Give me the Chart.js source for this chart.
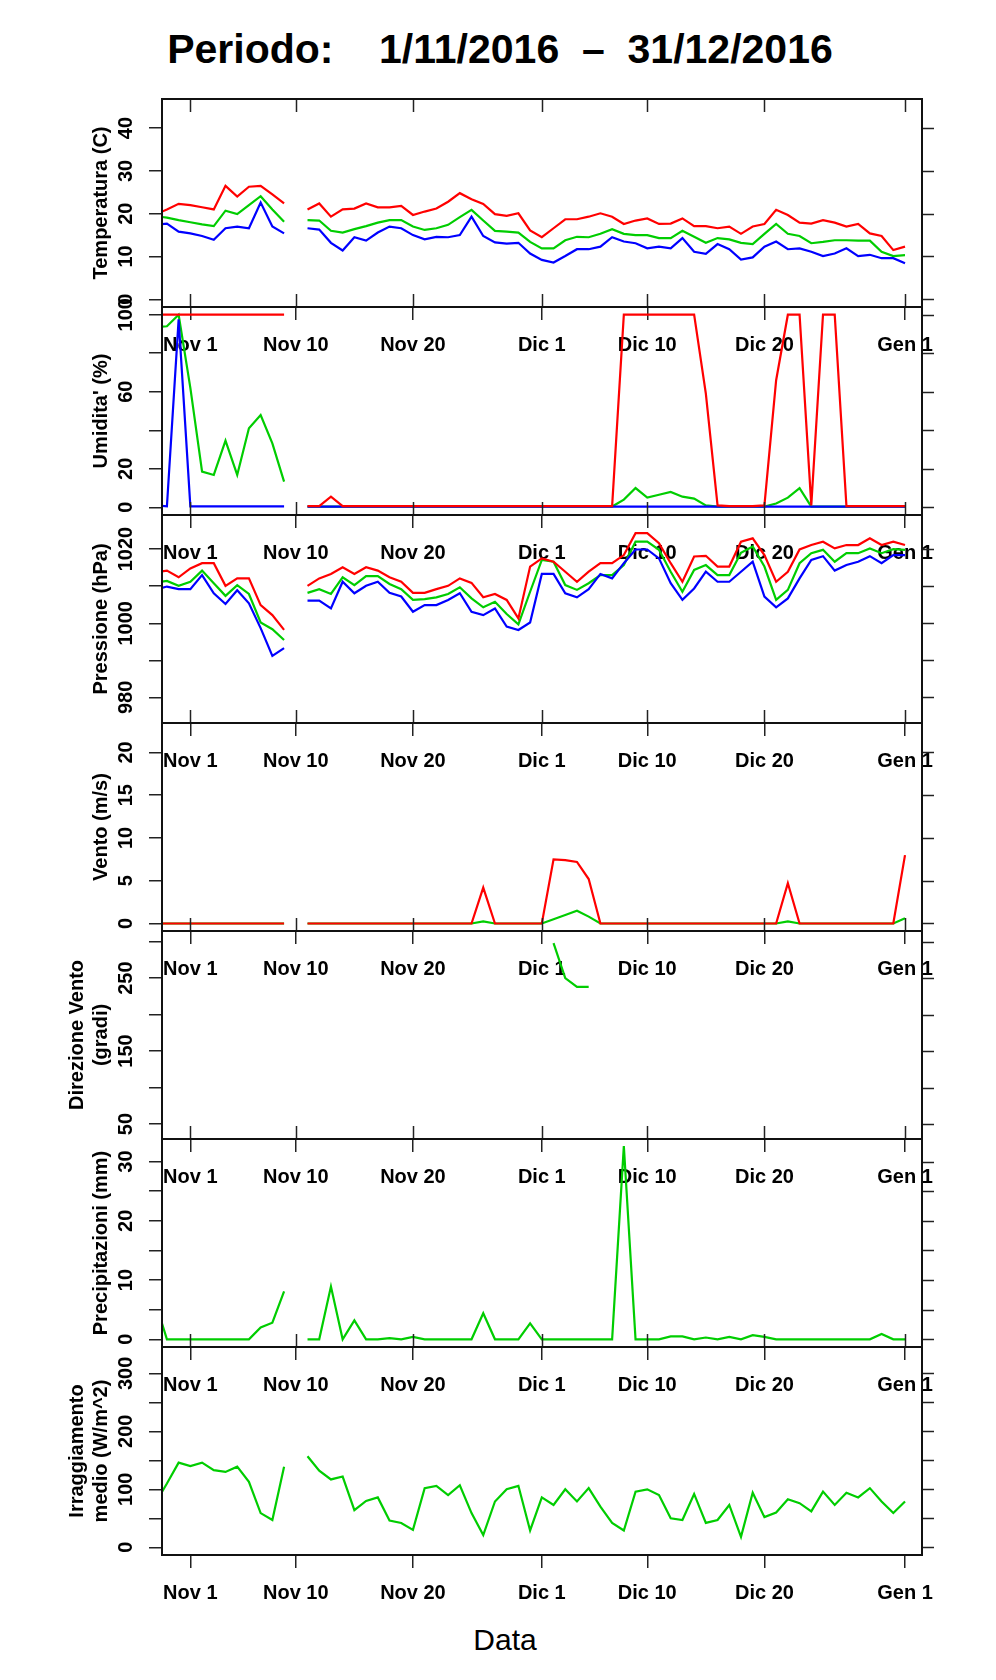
<!DOCTYPE html>
<html>
<head>
<meta charset="utf-8">
<title>Periodo: 1/11/2016 - 31/12/2016</title>
<script src="https://cdn.jsdelivr.net/npm/chart.js@4.4.1/dist/chart.umd.min.js"></script>
<style>
  body { margin: 0; background: #fff; }
  #page { position: relative; width: 996px; height: 1680px; overflow: hidden; font-family: "Liberation Sans", Arial, sans-serif; color: #000; }
  #page canvas { position: absolute; left: 0; }
  #title { position: absolute; left: 0; top: 29px; width: 1000px; text-align: center; font-weight: bold; font-size: 41px; line-height: 41px; white-space: pre; }
  #xlab { position: absolute; left: 405px; top: 1625px; width: 200px; text-align: center; font-size: 30px; line-height: 30px; }
</style>
</head>
<body>
<div id="page">
  <div id="title">Periodo:    1/11/2016  –  31/12/2016</div>
  <canvas id="cTemp" width="996" height="290" style="top:79px"></canvas>
  <canvas id="cHum" width="996" height="290" style="top:287px"></canvas>
  <canvas id="cPres" width="996" height="290" style="top:495px"></canvas>
  <canvas id="cWind" width="996" height="290" style="top:703px"></canvas>
  <canvas id="cDir" width="996" height="290" style="top:911px"></canvas>
  <canvas id="cRain" width="996" height="290" style="top:1119px"></canvas>
  <canvas id="cRad" width="996" height="290" style="top:1327px"></canvas>
  <div id="xlab">Data</div>
</div>
<script>

// days counted from Nov 1 (0); day 9 is missing
var days = [-3, -2, -1, 0, 1, 2, 3, 4, 5, 6, 7, 8, 9,
  10, 11, 12, 13, 14, 15, 16, 17, 18, 19,
  20, 21, 22, 23, 24, 25, 26, 27, 28, 29,
  30, 31, 32, 33, 34, 35, 36, 37, 38, 39,
  40, 41, 42, 43, 44, 45, 46, 47, 48, 49,
  50, 51, 52, 53, 54, 55, 56, 57, 58, 59,
  60, 61];

var xTicks = [0, 9, 19, 30, 39, 49, 61];
var xTickLabels = ['Nov 1', 'Nov 10', 'Nov 20', 'Dic 1', 'Dic 10', 'Dic 20', 'Gen 1'];

var tempMax = [19.8, 21.0, 22.3, 22.0, 21.5, 21.0, 26.5, 24.0, 26.3, 26.5, 24.5, 22.4, null,
  21.0, 22.4, 19.3, 21.0, 21.2, 22.4, 21.5, 21.5, 21.8, 19.7,
  20.5, 21.2, 22.8, 24.8, 23.4, 22.3, 19.9, 19.5, 20.1, 16.1,
  14.5, 16.6, 18.7, 18.7, 19.3, 20.1, 19.3, 17.6, 18.4, 18.9,
  17.6, 17.7, 18.9, 17.1, 17.1, 16.6, 17.0, 15.3, 17.0, 17.6,
  20.9, 19.7, 17.9, 17.7, 18.5, 17.9, 17.0, 17.6, 15.4, 14.8,
  11.5, 12.3];
var tempMean = [19.4, 19.1, 18.5, 18.0, 17.5, 17.1, 20.7, 19.9, 22.0, 24.1, 21.0, 18.1, null,
  18.5, 18.4, 16.0, 15.6, 16.4, 17.1, 17.9, 18.5, 18.5, 17.0,
  16.2, 16.6, 17.4, 19.2, 20.9, 18.4, 16.0, 15.8, 15.6, 13.4,
  11.9, 11.9, 13.8, 14.6, 14.5, 15.3, 16.4, 15.3, 15.0, 15.0,
  14.3, 14.3, 16.0, 14.6, 13.2, 14.3, 14.0, 13.2, 12.9, 15.3,
  17.6, 15.3, 14.8, 13.1, 13.4, 13.8, 13.8, 13.7, 13.7, 11.1,
  10.1, 10.3];
var tempMin = [17.4, 17.7, 15.8, 15.4, 14.8, 13.9, 16.6, 17.0, 16.6, 22.6, 17.0, 15.4, null,
  16.6, 16.3, 13.2, 11.4, 14.5, 13.7, 15.6, 17.0, 16.6, 15.0,
  14.0, 14.6, 14.5, 15.0, 19.3, 14.8, 13.3, 13.0, 13.2, 10.7,
  9.2, 8.6, 10.1, 11.7, 11.7, 12.3, 14.5, 13.5, 13.1, 11.9,
  12.3, 11.9, 14.3, 11.1, 10.6, 12.9, 11.7, 9.3, 9.8, 12.3,
  13.5, 11.7, 11.9, 11.1, 10.1, 10.7, 11.9, 10.1, 10.4, 9.6,
  9.6, 8.4];

var humMax = [100, 100, 100, 100, 100, 100, 100, 100, 100, 100, 100, 100, null,
  0.6, 0.6, 5.5, 0.6, 0.6, 0.6, 0.6, 0.6, 0.6, 0.6,
  0.6, 0.6, 0.6, 0.6, 0.6, 0.6, 0.6, 0.6, 0.6, 0.6,
  0.6, 0.6, 0.6, 0.6, 0.6, 0.6, 0.6, 100, 100, 100,
  100, 100, 100, 100, 59, 1, 0.6, 0.6, 0.6, 1,
  66, 100, 100, 1, 100, 100, 0.6, 0.6, 0.6, 0.6,
  0.6, 0.6];
var humMean = [93.5, 94, 100, 62, 18.5, 16.8, 34.6, 16.8, 41.0, 47.9, 33.2, 13.3, null,
  0.4, 0.4, 0.4, 0.4, 0.4, 0.4, 0.4, 0.4, 0.4, 0.4,
  0.4, 0.4, 0.4, 0.4, 0.4, 0.4, 0.4, 0.4, 0.4, 0.4,
  0.4, 0.4, 0.4, 0.4, 0.4, 0.4, 0.4, 4, 10, 5,
  6.5, 8, 5.5, 4.5, 1, 0.4, 0.4, 0.4, 0.4, 0.4,
  2, 5, 10, 0.4, 0.4, 0.4, 0.4, 0.4, 0.4, 0.4,
  0.4, 0.4];
var humMin = [1, 0.5, 97.6, 0.5, 0.5, 0.5, 0.5, 0.5, 0.5, 0.5, 0.5, 0.5, null,
  0.3, 0.3, 0.3, 0.3, 0.3, 0.3, 0.3, 0.3, 0.3, 0.3,
  0.3, 0.3, 0.3, 0.3, 0.3, 0.3, 0.3, 0.3, 0.3, 0.3,
  0.3, 0.3, 0.3, 0.3, 0.3, 0.3, 0.3, 0.3, 0.3, 0.3,
  0.3, 0.3, 0.3, 0.3, 0.3, 0.3, 0.3, 0.3, 0.3, 0.3,
  0.3, 0.3, 0.3, 0.3, 0.3, 0.3, 0.3, 0.3, 0.3, 0.3,
  0.3, 0.3];

var presMax = [1013.7, 1014.2, 1012.4, 1014.8, 1016.2, 1016.2, 1010.1, 1012.1, 1012.1, 1004.9, 1002.2, 998.2, null,
  1010.1, 1012.1, 1013.3, 1015.1, 1013.3, 1015.1, 1014.2, 1012.4, 1011.2, 1008.2,
  1008.2, 1009.2, 1010.1, 1012.1, 1010.9, 1007.0, 1007.9, 1006.3, 1001.3, 1015.3,
  1017.5, 1016.6, 1013.9, 1011.2, 1013.9, 1016.2, 1016.2, 1018.4, 1024.3, 1024.3,
  1021.6, 1016.2, 1011.2, 1018.0, 1018.2, 1015.3, 1015.3, 1022.0, 1022.9, 1018.4,
  1011.2, 1013.9, 1019.9, 1021.1, 1022.0, 1020.2, 1021.1, 1021.1, 1022.9, 1021.1,
  1022.0, 1021.1];
var presMean = [1011.0, 1011.4, 1010.1, 1011.2, 1014.2, 1010.8, 1007.4, 1010.3, 1007.9, 1000.2, 998.4, 995.5, null,
  1008.2, 1009.2, 1007.9, 1012.4, 1010.3, 1012.7, 1012.7, 1010.6, 1009.2, 1006.3,
  1006.5, 1007.0, 1007.9, 1009.7, 1006.7, 1004.3, 1005.8, 1002.5, 999.7, 1008.5,
  1017.1, 1016.6, 1010.3, 1009.0, 1010.8, 1013.0, 1013.0, 1015.7, 1022.0, 1022.0,
  1019.8, 1013.9, 1008.5, 1014.4, 1015.7, 1013.0, 1013.0, 1019.0, 1020.7, 1015.3,
  1006.3, 1009.0, 1016.2, 1018.9, 1019.8, 1016.6, 1018.9, 1018.9, 1020.2, 1018.9,
  1020.0, 1019.8];
var presMin = [1009.0, 1009.9, 1009.2, 1009.2, 1013.0, 1008.1, 1005.2, 1008.9, 1005.4, 998.7, 991.2, 993.3, null,
  1006.1, 1006.1, 1004.0, 1011.2, 1008.1, 1010.1, 1011.2, 1008.2, 1007.2, 1003.1,
  1004.9, 1004.9, 1006.3, 1008.1, 1003.1, 1002.2, 1004.0, 999.1, 998.2, 1000.2,
  1013.3, 1013.3, 1008.1, 1007.0, 1009.2, 1013.3, 1012.1, 1016.2, 1019.9, 1019.9,
  1017.5, 1010.8, 1006.3, 1009.4, 1013.9, 1011.2, 1011.2, 1013.9, 1016.6, 1007.2,
  1004.3, 1006.7, 1012.1, 1017.1, 1018.1, 1014.2, 1015.7, 1016.6, 1018.1, 1016.2,
  1018.4, 1018.4];

var windMax = [0, 0, 0, 0, 0, 0, 0, 0, 0, 0, 0, 0, null,
  0, 0, 0, 0, 0, 0, 0, 0, 0, 0,
  0, 0, 0, 0, 0, 4.2, 0, 0, 0, 0,
  0, 7.5, 7.4, 7.2, 5.2, 0, 0, 0, 0, 0,
  0, 0, 0, 0, 0, 0, 0, 0, 0, 0,
  0, 4.7, 0, 0, 0, 0, 0, 0, 0, 0,
  0, 8.0];
var windMean = [0, 0, 0, 0, 0, 0, 0, 0, 0, 0, 0, 0, null,
  0, 0, 0, 0, 0, 0, 0, 0, 0, 0,
  0, 0, 0, 0, 0, 0.25, 0, 0, 0, 0,
  0, 0.5, 1.0, 1.5, 0.8, 0, 0, 0, 0, 0,
  0, 0, 0, 0, 0, 0, 0, 0, 0, 0,
  0, 0.25, 0, 0, 0, 0, 0, 0, 0, 0,
  0, 0.6];

var windDir = [null, null, null, null, null, null, null, null, null, null, null, null, null,
  null, null, null, null, null, null, null, null, null, null,
  null, null, null, null, null, null, null, null, null, null,
  null, 298, 250, 238, 238, null, null, null, null, null,
  null, null, null, null, null, null, null, null, null, null,
  null, null, null, null, null, null, null, null, null, null,
  null, null];

var rain = [6.4, 0, 0, 0, 0, 0, 0, 0, 0, 2.0, 2.8, 8.1, null,
  0, 0, 8.9, 0, 3.2, 0, 0, 0.2, 0, 0.4,
  0, 0, 0, 0, 0, 4.4, 0, 0, 0, 2.7,
  0, 0, 0, 0, 0, 0, 0, 32.6, 0, 0,
  0, 0.5, 0.5, 0, 0.3, 0, 0.4, 0, 0.7, 0.4,
  0, 0, 0, 0, 0, 0, 0, 0, 0, 0.9,
  0, 0];

var radiation = [76, 110, 146, 140, 146, 133, 130, 139, 113, 59, 47, 139, null,
  157, 132, 117, 122, 64, 80, 86, 46, 42, 30,
  102, 106, 90, 107, 59, 21, 79, 100, 106, 29,
  86, 73, 100, 79, 102, 70, 42, 29, 96, 100,
  90, 50, 47, 92, 42, 47, 73, 18, 94, 52,
  60, 83, 76, 62, 96, 73, 94, 86, 102, 79,
  59, 79];

var tempTicks = [0, 10, 20, 30, 40];
var tempTickLabels = ['0', '10', '20', '30', '40'];
var humTicks = [0, 20, 40, 60, 80, 100];
var humTickLabels = ['0', '20', '', '60', '', '100'];
var presTicks = [980, 990, 1000, 1010, 1020];
var presTickLabels = ['980', '', '1000', '', '1020'];
var windTicks = [0, 5, 10, 15, 20];
var windTickLabels = ['0', '5', '10', '15', '20'];
var dirTicks = [50, 100, 150, 200, 250, 300];
var dirTickLabels = ['50', '', '150', '', '250', ''];
var rainTicks = [0, 5, 10, 15, 20, 25, 30];
var rainTickLabels = ['0', '', '10', '', '20', '', '30'];
var radTicks = [0, 50, 100, 150, 200, 250, 300];
var radTickLabels = ['0', '', '100', '', '200', '', '300'];

var RED = '#ff0000';
var GREEN = '#00cd00';
var BLUE = '#0000ff';
var FONT = '"Liberation Sans", Arial, Helvetica, sans-serif';

// frame, right and top ticks, rotated y labels (R look)
var rFrame = {
  id: 'rFrame',
  afterDraw: function(chart, args, opts) {

    var ctx = chart.ctx;
    var area = chart.chartArea;
    var xs = chart.scales.x;
    var ys = chart.scales.y;

    ctx.save();
    ctx.strokeStyle = '#222';
    ctx.lineWidth = 1.5;

    xs.ticks.forEach(function(t) {
      var px = Math.round(xs.getPixelForValue(t.value)) + 0.5;
      ctx.beginPath();
      ctx.moveTo(px, area.top);
      ctx.lineTo(px, area.top + (opts.topInward ? 13 : -13));
      ctx.stroke();
    });

    ys.ticks.forEach(function(t) {
      var py = Math.round(ys.getPixelForValue(t.value)) + 0.5;
      ctx.beginPath();
      ctx.moveTo(area.right, py);
      ctx.lineTo(area.right + 12, py);
      ctx.stroke();
    });

    ctx.strokeStyle = '#111';
    ctx.lineWidth = 2;
    ctx.strokeRect(area.left, area.top, area.right - area.left, area.bottom - area.top);

    ctx.fillStyle = '#000';
    ctx.font = 'bold 20px ' + FONT;
    ctx.textAlign = 'center';
    ctx.textBaseline = 'alphabetic';
    ys.ticks.forEach(function(t, i) {
      var lab = opts.labels[i];
      if (!lab) return;
      ctx.save();
      ctx.translate(area.left - 30, ys.getPixelForValue(t.value));
      ctx.rotate(-Math.PI / 2);
      ctx.fillText(lab, 0, 0);
      ctx.restore();
    });

    ctx.restore();
  }
};

function points(values) {

  return days.map(function(d, i) {
    return { x: d, y: values[i] };
  });
}

function line(values, color) {

  return {
    data: points(values),
    borderColor: color,
    borderWidth: 2.2,
    pointRadius: 0,
    fill: false,
    spanGaps: false,
    tension: 0
  };
}

function makePanel(id, title, titlePad, yMin, yMax, yTicks, yLabels, datasets, topInward) {

  var ctx = document.getElementById(id).getContext('2d');

  return new Chart(ctx, {
    type: 'line',
    data: { datasets: datasets },
    options: {
      responsive: false,
      animation: false,
      devicePixelRatio: 1,
      events: [],
      layout: { padding: { top: 20, right: 74, bottom: 0, left: 0 } },
      plugins: {
        legend: { display: false },
        tooltip: { enabled: false },
        rFrame: { topInward: topInward, labels: yLabels }
      },
      scales: {
        x: {
          type: 'linear',
          min: -2.42,
          max: 62.45,
          bounds: 'data',
          afterBuildTicks: function(s) {
            s.ticks = xTicks.map(function(v) { return { value: v }; });
          },
          afterFit: function(s) { s.height = 62; },
          grid: { drawOnChartArea: false, drawTicks: true, tickLength: 13, color: '#222', lineWidth: 1.5 },
          border: { display: false },
          ticks: {
            autoSkip: false,
            maxRotation: 0,
            padding: 13,
            color: '#000',
            font: { family: FONT, size: 20, weight: 'bold' },
            callback: function(value, index) { return xTickLabels[index]; }
          }
        },
        y: {
          type: 'linear',
          min: yMin,
          max: yMax,
          bounds: 'data',
          afterBuildTicks: function(s) {
            s.ticks = yTicks.map(function(v) { return { value: v }; });
          },
          afterFit: function(s) { s.width = 162; },
          grid: { drawOnChartArea: false, drawTicks: true, tickLength: 13, color: '#222', lineWidth: 1.5 },
          border: { display: false },
          ticks: { display: false },
          title: {
            display: true,
            text: title,
            color: '#000',
            font: { family: FONT, size: 20, weight: 'bold', lineHeight: 1.2 },
            padding: { top: titlePad, bottom: 0 }
          }
        }
      }
    },
    plugins: [rFrame]
  });
}

function init() {

  makePanel('cTemp', 'Temperatura (C)', 89, -1.8, 46.8, tempTicks, tempTickLabels,
    [line(tempMax, RED), line(tempMin, BLUE), line(tempMean, GREEN)], true);

  makePanel('cHum', "Umidita' (%)", 89, -4, 104, humTicks, humTickLabels,
    [line(humMax, RED), line(humMin, BLUE), line(humMean, GREEN)], false);

  makePanel('cPres', 'Pressione (hPa)', 89, 973.1, 1029.2, presTicks, presTickLabels,
    [line(presMax, RED), line(presMin, BLUE), line(presMean, GREEN)], false);

  makePanel('cWind', 'Vento (m/s)', 89, -0.88, 23.45, windTicks, windTickLabels,
    [line(windMax, RED), line(windMean, GREEN)], false);

  makePanel('cDir', ['Direzione Vento', '(gradi)'], 65, 29.5, 314.5, dirTicks, dirTickLabels,
    [line(windDir, GREEN)], false);

  makePanel('cRain', 'Precipitazioni (mm)', 89, -1.3, 33.8, rainTicks, rainTickLabels,
    [line(rain, GREEN)], false);

  makePanel('cRad', ['Irraggiamento', 'medio (W/m^2)'], 65, -13.3, 345.4, radTicks, radTickLabels,
    [line(radiation, GREEN)], false);
}

init();
</script>
</body>
</html>
